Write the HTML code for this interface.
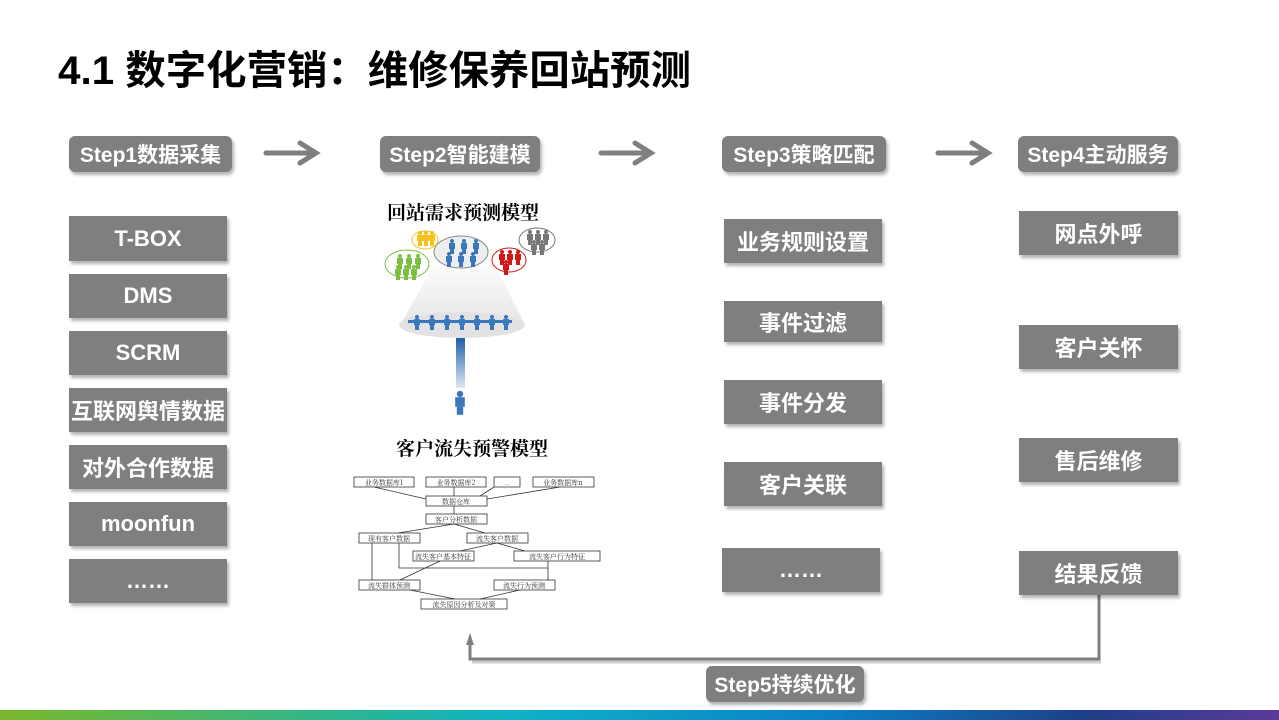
<!DOCTYPE html>
<html><head><meta charset="utf-8"><style>
body{margin:0;width:1279px;height:720px;background:#fff;position:relative;overflow:hidden;font-family:"Liberation Sans","Noto Sans CJK SC",sans-serif;}
.t{position:absolute;left:58px;top:38px;font-size:40px;font-weight:bold;color:#000;white-space:nowrap;transform:scaleX(1.01);transform-origin:left}
.b{position:absolute;background:#7f7f7f;color:#fff;font-weight:bold;font-size:22px;display:flex;align-items:center;justify-content:center;box-shadow:2px 3px 3px rgba(0,0,0,.3);white-space:nowrap}
.s{border-radius:6px;font-size:21px}
.bar{position:absolute;left:0;top:710px;width:1279px;height:10px;background:linear-gradient(90deg,#7ab92a 0%,#2fb68a 25%,#0fb2c8 40%,#0a80c8 65%,#1d3f86 85%,#5b3a9a 100%)}
</style></head><body>
<div class="t">4.1 数字化营销：维修保养回站预测</div>

<div class="b s" style="left:69px;top:136px;width:163px;height:36px">Step1数据采集</div>
<div class="b s" style="left:380px;top:136px;width:160px;height:36px">Step2智能建模</div>
<div class="b s" style="left:722px;top:136px;width:164px;height:36px">Step3策略匹配</div>
<div class="b s" style="left:1018px;top:136px;width:160px;height:36px">Step4主动服务</div>
<div class="b s" style="left:706px;top:666px;width:158px;height:36px">Step5持续优化</div>

<svg style="position:absolute;left:0;top:0" width="1279" height="720">
<defs><linearGradient id="g" x1="0" y1="0" x2="0" y2="1"><stop offset="0" stop-color="#fff"/><stop offset="1" stop-color="#e6e6e6"/></linearGradient>
<linearGradient id="g2" x1="0" y1="0" x2="0" y2="1"><stop offset="0" stop-color="#1f5fa8"/><stop offset="1" stop-color="#dde8f5"/></linearGradient>
<g id="p"><circle cx="0" cy="-5" r="2"/><rect x="-3" y="-3" width="6" height="6"/><rect x="-2" y="3" width="4" height="5"/></g></defs>
<g stroke="#7f7f7f" stroke-width="5" fill="none" stroke-linecap="round">
<path d="M266 153H314M300 143L316 153L300 163"/>
<path d="M601 153H649M635 143L651 153L635 163"/>
<path d="M938 153H986M972 143L988 153L972 163"/>
</g>
<path d="M1099 595V659H470V640" stroke="#7f7f7f" stroke-width="3" fill="none"/>
<path d="M470 633L466 645H474Z" fill="#7f7f7f"/>
<path d="M472 662H1101" stroke="#ccc" stroke-width="3"/>
<path d="M440 255L400 325H525L490 255Z" fill="url(#g)"/>
<ellipse cx="462" cy="325" rx="63" ry="13" fill="#e2e2e2"/>
<rect x="456" y="338" width="9" height="50" fill="url(#g2)"/>
<ellipse cx="461" cy="252" rx="27" ry="16" fill="#eee" stroke="#888"/>
<ellipse cx="407" cy="264" rx="22" ry="14" fill="#fff" stroke="#7cc043"/>
<ellipse cx="425" cy="240" rx="13" ry="9" fill="#fff" stroke="#f4c21c"/>
<ellipse cx="509" cy="260" rx="17" ry="12" fill="#fff" stroke="#d01616"/>
<ellipse cx="537" cy="240" rx="18" ry="12" fill="#fff" stroke="#777"/>
<g fill="#3a77bd"><rect x="408" y="320" width="104" height="3"/>
<use href="#p" x="417" y="322"/><use href="#p" x="432" y="322"/><use href="#p" x="447" y="322"/><use href="#p" x="462" y="322"/><use href="#p" x="477" y="322"/><use href="#p" x="492" y="322"/><use href="#p" x="506" y="322"/>
<use href="#p" x="452" y="246"/><use href="#p" x="464" y="246"/><use href="#p" x="476" y="246"/><use href="#p" x="449" y="259"/><use href="#p" x="461" y="259"/><use href="#p" x="473" y="259"/>
<g transform="translate(460 402) scale(1.6)"><use href="#p"/></g></g>
<g fill="#7cc043"><use href="#p" x="400" y="261"/><use href="#p" x="409" y="261"/><use href="#p" x="418" y="261"/><use href="#p" x="398" y="272"/><use href="#p" x="406" y="272"/><use href="#p" x="414" y="272"/></g>
<g fill="#f4c21c"><use href="#p" x="420" y="238"/><use href="#p" x="426" y="238"/><use href="#p" x="432" y="238"/></g>
<g fill="#d01616"><use href="#p" x="502" y="257"/><use href="#p" x="510" y="257"/><use href="#p" x="518" y="257"/><use href="#p" x="506" y="267"/></g>
<g fill="#777"><use href="#p" x="530" y="237"/><use href="#p" x="538" y="237"/><use href="#p" x="546" y="237"/><use href="#p" x="534" y="247"/><use href="#p" x="542" y="247"/></g>
<g font-family="Liberation Serif,Noto Serif CJK SC,serif" font-weight="bold" font-size="19" fill="#000" text-anchor="middle">
<text x="463" y="219">回站需求预测模型</text><text x="472" y="455">客户流失预警模型</text></g>
<g stroke="#333" stroke-width="0.8" fill="#fff" font-size="7" font-family="Noto Serif CJK SC,serif">
<rect x="354" y="477" width="60" height="10"/><rect x="426" y="477" width="60" height="10"/><rect x="494" y="477" width="26" height="10"/><rect x="533" y="477" width="61" height="10"/>
<rect x="426" y="496" width="61" height="10"/><rect x="426" y="514" width="61" height="10"/>
<rect x="359" y="533" width="61" height="10"/><rect x="467" y="533" width="61" height="10"/>
<rect x="413" y="551" width="61" height="10"/><rect x="514" y="551" width="86" height="10"/>
<rect x="359" y="580" width="61" height="10"/><rect x="494" y="580" width="61" height="10"/>
<rect x="421" y="599" width="86" height="10"/>
<path d="M374 487L426 499M454 487V496M494 487L480 496M560 487L487 499M454 506V514M454 524L398 533M454 524L485 533M497 543L460 551M497 543L525 551M372 543V580M399 543V568H548M548 561V580M440 561L400 580M410 590L455 599M520 590L480 599" fill="none"/>
</g>
<g font-size="7" fill="#333" font-family="Noto Serif CJK SC,serif" text-anchor="middle">
<text x="384" y="485">业务数据库1</text><text x="456" y="485">业务数据库2</text><text x="507" y="485">..</text><text x="563" y="485">业务数据库n</text>
<text x="456" y="504">数据仓库</text><text x="456" y="522">客户分析数据</text><text x="389" y="541">现有客户数据</text><text x="497" y="541">流失客户数据</text>
<text x="443" y="559">流失客户基本特征</text><text x="557" y="559">流失客户行为特征</text><text x="389" y="588">流失群体预测</text><text x="524" y="588">流失行为预测</text><text x="464" y="607">流失原因分析及对策</text></g>
</svg>

<div class="b" style="left:69px;top:216px;width:158px;height:45px">T-BOX</div>
<div class="b" style="left:69px;top:274px;width:158px;height:44px">DMS</div>
<div class="b" style="left:69px;top:331px;width:158px;height:44px">SCRM</div>
<div class="b" style="left:69px;top:388px;width:158px;height:44px">互联网舆情数据</div>
<div class="b" style="left:69px;top:445px;width:158px;height:44px">对外合作数据</div>
<div class="b" style="left:69px;top:502px;width:158px;height:44px">moonfun</div>
<div class="b" style="left:69px;top:559px;width:158px;height:44px">……</div>

<div class="b" style="left:724px;top:219px;width:158px;height:44px">业务规则设置</div>
<div class="b" style="left:724px;top:301px;width:158px;height:41px">事件过滤</div>
<div class="b" style="left:724px;top:380px;width:158px;height:44px">事件分发</div>
<div class="b" style="left:724px;top:462px;width:158px;height:44px">客户关联</div>
<div class="b" style="left:722px;top:548px;width:158px;height:44px">……</div>

<div class="b" style="left:1019px;top:211px;width:159px;height:44px">网点外呼</div>
<div class="b" style="left:1019px;top:325px;width:159px;height:44px">客户关怀</div>
<div class="b" style="left:1019px;top:438px;width:159px;height:44px">售后维修</div>
<div class="b" style="left:1019px;top:551px;width:159px;height:44px">结果反馈</div>

<div class="bar"></div>
</body></html>
